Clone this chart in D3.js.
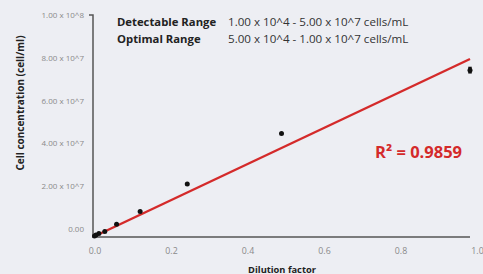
<!DOCTYPE html>
<html>
<head>
<meta charset="utf-8">
<script src="https://cdn.jsdelivr.net/npm/d3@7"></script>
<style>
  html, body { margin: 0; padding: 0; background: #edeef3; }
  svg { display: block; font-family: "Open Sans", sans-serif; }
</style>
</head>
<body>
<script>
// dilution factor vs measured cell concentration
const dilutions = [1, 0.5, 0.25, 0.125, 0.0625, 0.03125, 0.015625, 0.0078125, 0.00390625];
const concentrations = [7.42e7, 4.45e7, 2.09e7, 8.0e6, 2.06e6, -1.3e6, -2.2e6, -3.0e6, -3.4e6];
const errors = [1.6e6, 0, 0, 0, 0, 0, 0, 0, 0];

const fitSlope = 8.33e7;
const fitIntercept = -3.9e6;

const xTicks = [0, 0.2, 0.4, 0.6, 0.8, 1.0];
const yTicks = [0, 2e7, 4e7, 6e7, 8e7, 1e8];
const yTickLabels = ['0.00', '2.00 x 10^7', '4.00 x 10^7', '6.00 x 10^7', '8.00 x 10^7', '1.00 x 10^8'];

const rangeRows = [
  ['Detectable Range', '1.00 x 10^4 - 5.00 x 10^7 cells/mL'],
  ['Optimal Range', '5.00 x 10^4 - 1.00 x 10^7 cells/mL']
];

const w = 483, h = 274;
const svg = d3.select(document.body).append('svg')
  .attr('width', w)
  .attr('height', h);

const x = d3.scaleLinear().domain([0, 1]).range([93, 470]);
const xLabel = d3.scaleLinear().domain([0, 1]).range([94.5, 477]);
const y = d3.scaleLinear().domain([0, 1e8]).range([228.7, 15]);
const yMin = fitIntercept, xMax = 1;

// axes frame
svg.append('path')
  .attr('fill', 'none')
  .attr('stroke', '#555')
  .attr('stroke-width', 1.5)
  .attr('d', d3.line()([
    [x(0) - 4, y(1e8)], [x(0), y(1e8)], [x(0), y(yMin)], [x(xMax), y(yMin)]
  ]));

// y tick labels
const yAxis = svg.append('g')
  .attr('transform', 'translate(84,0)')
  .call(d3.axisLeft(y).tickValues(yTicks).tickSize(0)
    .tickFormat((d, i) => yTickLabels[i]));
yAxis.select('.domain').remove();
yAxis.selectAll('text')
  .attr('x', 0)
  .attr('fill', '#8a8a8a')
  .style('font-size', '8px')
  .style('font-family', '"Open Sans", sans-serif');

// x tick labels
const xAxis = svg.append('g')
  .attr('transform', `translate(0,${y(yMin) + 8})`)
  .call(d3.axisBottom(xLabel).tickValues(xTicks).tickSize(0)
    .tickFormat(d3.format('.1f')));
xAxis.select('.domain').remove();
xAxis.selectAll('text')
  .attr('fill', '#8a8a8a')
  .style('font-size', '8.8px')
  .style('font-family', '"Open Sans", sans-serif');

// axis titles
svg.append('text')
  .attr('transform', 'translate(24,103) rotate(-90)')
  .attr('text-anchor', 'middle')
  .attr('fill', '#222')
  .style('font-size', '10px')
  .style('font-weight', 'bold')
  .text('Cell concentration (cell/ml)');

svg.append('text')
  .attr('x', 282)
  .attr('y', 272.5)
  .attr('text-anchor', 'middle')
  .attr('fill', '#222')
  .style('font-size', '9.3px')
  .style('font-weight', 'bold')
  .text('Dilution factor');

// fit line
svg.append('line')
  .attr('x1', x(0)).attr('y1', y(fitIntercept))
  .attr('x2', x(1)).attr('y2', y(fitSlope + fitIntercept))
  .attr('stroke', '#d42a2a')
  .attr('stroke-width', 2.4);

// error bars
svg.selectAll('.err')
  .data(dilutions.filter((d, i) => errors[i] > 0))
  .enter().append('line')
  .attr('class', 'err')
  .attr('x1', d => x(d)).attr('x2', d => x(d))
  .attr('y1', d => y(concentrations[dilutions.indexOf(d)] - errors[dilutions.indexOf(d)]))
  .attr('y2', d => y(concentrations[dilutions.indexOf(d)] + errors[dilutions.indexOf(d)]))
  .attr('stroke', '#111')
  .attr('stroke-width', 3.5);

// points
svg.selectAll('.pt')
  .data(dilutions)
  .enter().append('circle')
  .attr('class', 'pt')
  .attr('cx', d => x(d))
  .attr('cy', (d, i) => y(concentrations[i]))
  .attr('r', 2.5)
  .attr('fill', '#111');

// range legend
const legend = svg.append('g');
legend.selectAll('.lab')
  .data(rangeRows)
  .enter().append('text')
  .attr('x', 117)
  .attr('y', (d, i) => 26 + i * 16.5)
  .attr('fill', '#222')
  .style('font-size', '11.3px')
  .style('font-weight', 'bold')
  .text(d => d[0]);
legend.selectAll('.val')
  .data(rangeRows)
  .enter().append('text')
  .attr('x', 228)
  .attr('y', (d, i) => 26 + i * 16.5)
  .attr('fill', '#333')
  .style('font-size', '11.6px')
  .text(d => d[1]);

// R squared
svg.append('text')
  .attr('x', 375)
  .attr('y', 158)
  .attr('fill', '#d42a2a')
  .style('font-size', '16.5px')
  .style('font-weight', 'bold')
  .text('R² = 0.9859');
</script>
</body>
</html>
